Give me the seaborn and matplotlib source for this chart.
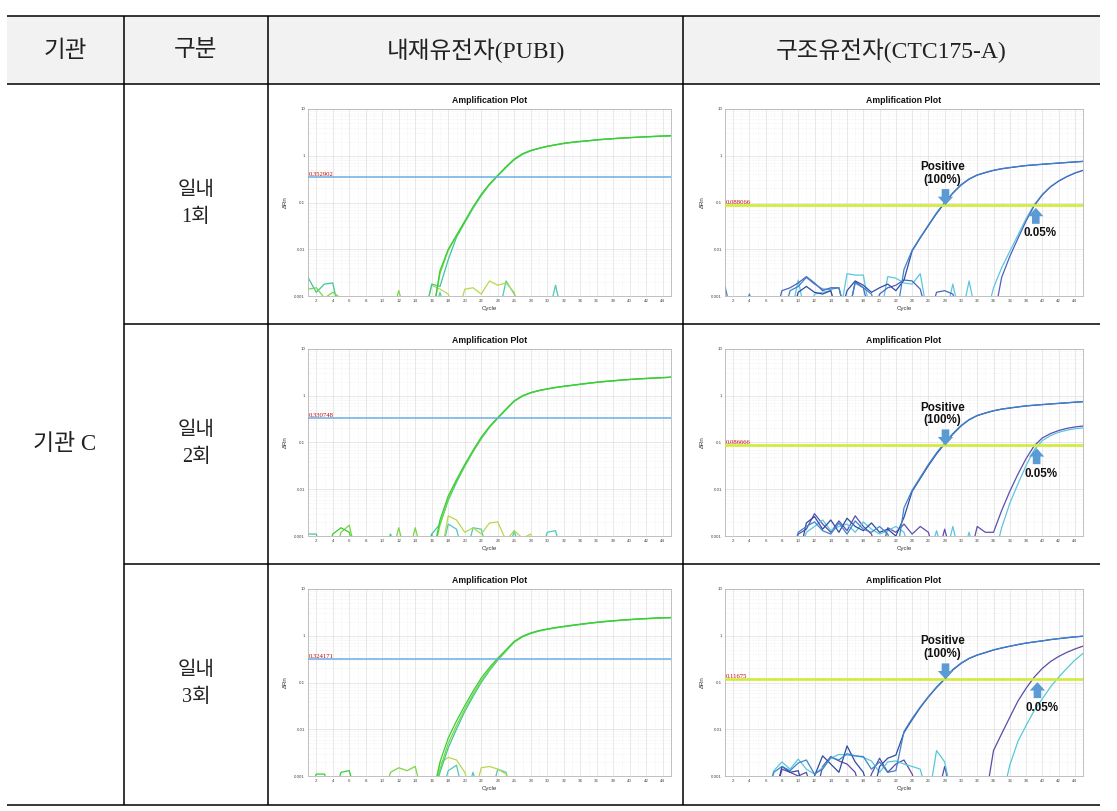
import matplotlib
matplotlib.use("Agg")
import matplotlib.pyplot as plt
import seaborn as sns
from matplotlib.patches import Rectangle
from matplotlib.ticker import MultipleLocator, LogLocator, FixedLocator, NullFormatter
import matplotlib.transforms as mtransforms

sns.set_theme(style="white")
plt.rcParams["font.family"] = ["Liberation Sans", "Noto Sans CJK KR"]

W, H = 1117, 811
B = 3e-4  # below the visible axis floor

# ---------------- table text ----------------
HEADERS = ["기관", "구분", "내재유전자(PUBI)", "구조유전자(CTC175-A)"]
INSTITUTION = "기관 C"
ROW_LABELS = ["일내\n1회", "일내\n2회", "일내\n3회"]
PLOT_TITLE = "Amplification Plot"
X_LABEL = "Cycle"
Y_LABEL = "ΔRn"
Y_TICKS = [0.001, 0.01, 0.1, 1, 10]
Y_TICK_LABELS = ["0.001", "0.01", "0.1", "1", "10"]
X_TICKS = list(range(2, 45, 2))
CYCLES = list(range(1, 46))

# ---------------- thresholds ----------------
PUBI_THRESHOLDS = [0.352902, 0.330748, 0.324171]
PUBI_THR_LABELS = ["0.352902", "0.330748", "0.324171"]
CTC_THRESHOLDS = [0.088066, 0.086666, 0.11675]
CTC_THR_LABELS = ["0.088066", "0.086666", "0.11675"]

# ---------------- PUBI row 1 ----------------
P1_A = [B, B, B, B, B, B, B, B, B, B,
        B, B, B, B, B, B, .0035, .010, .020, .040,
        .080, .15, .25, .38, .58, .85, 1.10, 1.30, 1.45, 1.60,
        1.72, 1.85, 1.95, 2.03, 2.10, 2.20, 2.27, 2.33, 2.40, 2.45,
        2.50, 2.55, 2.60, 2.65, 2.70]
P1_B = [.0014, .0015, .0009, .0012, .0009, B, B, B, B, B,
        B, .0013, B, B, B, B, .0030, .0095, .019, .039,
        .078, .145, .245, .375, .57, .84, 1.09, 1.29, 1.44, 1.59,
        1.71, 1.84, 1.94, 2.02, 2.09, 2.19, 2.26, 2.32, 2.39, 2.44,
        2.49, 2.54, 2.59, 2.64, 2.68]
P1_C = [.0025, .0012, .0018, .0019, B, B, B, B, B, B,
        B, B, B, B, B, .0018, .0016, .0060, .018, .037,
        .075, .14, .24, .37, .56, .82, 1.07, 1.27, 1.43, 1.58,
        1.70, 1.82, 1.92, 2.00, 2.08, 2.17, 2.24, 2.31, 2.37, 2.43,
        2.48, 2.53, 2.58, 2.62, 2.66]
P1_N = [B, B, B, B, B, B, B, B, B, B,
        B, B, B, B, B, .0017, .0014, .0011, B, .0014,
        .0015, .0011, .0021, .0017, .0019, .0012, B, B, B, B,
        B, B, B, B, B, B, B, B, B, B,
        B, B, B, B, B]
P1_M = [B, B, B, B, B, B, B, B, B, B,
        B, B, B, B, B, B, .0012, B, B, B,
        B, B, B, B, .0021, .0011, B, B, B, B,
        .0017, B, B, B, B, B, B, B, B, B,
        B, B, B, B, B]

# ---------------- PUBI row 2 ----------------
P2_A = [B, B, B, .0011, .0015, .0012, B, B, B, B,
        B, B, B, B, B, B, .0022, .0072, .016, .034,
        .068, .13, .22, .34, .52, .78, 1.00, 1.17, 1.30, 1.41,
        1.51, 1.60, 1.68, 1.77, 1.86, 1.95, 2.03, 2.10, 2.17, 2.24,
        2.30, 2.35, 2.40, 2.45, 2.50]
P2_B = [B, B, B, B, .0012, .0017, B, B, B, B,
        B, .0015, B, .0015, B, B, .0017, .0062, .015, .032,
        .065, .125, .215, .335, .51, .77, .99, 1.16, 1.29, 1.40,
        1.50, 1.59, 1.67, 1.76, 1.85, 1.94, 2.02, 2.09, 2.16, 2.23,
        2.29, 2.34, 2.39, 2.44, 2.49]
P2_C = [.0011, .0011, B, B, B, B, B, B, B, B,
        .0011, B, B, B, B, .0011, .0018, .0058, .014, .031,
        .063, .12, .21, .33, .50, .76, .98, 1.15, 1.28, 1.39,
        1.49, 1.58, 1.66, 1.75, 1.84, 1.93, 2.01, 2.08, 2.15, 2.22,
        2.28, 2.33, 2.38, 2.43, 2.48]
P2_N = [B, B, B, B, B, B, B, B, B, B,
        B, B, B, B, B, B, B, .0027, .0022, .0012,
        .0015, .0011, .0019, .0020, .0008, .0013, .0009, .0011, B, B,
        B, B, B, B, B, B, B, B, B, B,
        B, B, B, B, B]
P2_M = [B, B, B, B, B, B, B, B, B, B,
        B, B, B, B, B, .0011, B, .0018, .0014, B,
        .0015, .0014, B, B, B, .0013, B, B, B, .0012,
        .0013, B, B, B, B, B, B, B, B, B,
        B, B, B, B, B]

# ---------------- PUBI row 3 ----------------
P3_A = [B, .0011, .0011, B, .0012, .0013, B, B, B, B,
        B, B, B, B, B, B, .0020, .0065, .015, .032,
        .065, .125, .21, .33, .50, .76, .98, 1.15, 1.29, 1.40,
        1.50, 1.59, 1.68, 1.77, 1.86, 1.95, 2.03, 2.10, 2.17, 2.23,
        2.29, 2.34, 2.39, 2.43, 2.46]
P3_B = [B, B, B, B, B, B, B, B, B, B,
        .0012, .0015, .0013, .0016, B, B, .0014, .0050, .012, .027,
        .056, .11, .19, .31, .48, .74, .96, 1.13, 1.27, 1.38,
        1.48, 1.57, 1.66, 1.75, 1.84, 1.93, 2.01, 2.08, 2.15, 2.21,
        2.27, 2.32, 2.37, 2.41, 2.44]
P3_C = [B, B, B, B, B, B, B, B, B, B,
        B, B, B, B, B, B, .0012, .0040, .010, .024,
        .050, .10, .18, .30, .47, .73, .95, 1.12, 1.26, 1.37,
        1.47, 1.56, 1.65, 1.74, 1.83, 1.92, 2.00, 2.07, 2.14, 2.20,
        2.26, 2.31, 2.36, 2.40, 2.43]
P3_N = [B, B, B, B, B, B, B, B, B, B,
        B, B, B, B, B, B, .0019, .0025, .0022, .0012,
        B, .0015, .0016, .0014, .0011, B, B, B, B, B,
        B, B, B, B, B, B, B, B, B, B,
        B, B, B, B, B]
P3_M = [B, B, B, B, B, B, B, B, B, B,
        B, B, B, B, B, B, B, .0013, .0017, B,
        .0012, B, B, .0014, .0012, B, B, B, B, B,
        B, B, B, B, B, B, B, B, B, B,
        B, B, B, B, B]

# ---------------- CTC row 1 ----------------
C1_PA = [.0016, B, B, .0011, B, B, B, B, .0013, .0016,
         .0025, .0018, .0014, .0014, .0015, B, .0019, .0015, .0011, B,
         B, B, .0037, .0095, .018, .033, .060, .10, .16, .24,
         .32, .39, .44, .49, .53, .56, .59, .62, .64, .66,
         .68, .70, .72, .74, .76]
C1_PB = [B, B, B, B, B, B, B, B, B, .0012,
         .0016, .0012, .0011, .0013, B, .0013, .0021, .0017, .0012, .0015,
         .0018, .0013, .0022, .0092, .0175, .032, .058, .098, .158, .235,
         .315, .385, .435, .485, .525, .555, .585, .615, .635, .655,
         .675, .695, .715, .735, .755]
C1_LA = [B, B, B, B, B, B, B, B, B, .0022,
         B, .0011, .0012, .0013, B, .0030, .0028, .0028, B, B,
         .0026, .0024, .0019, .0018, .0030, B, B, B, .0018, B,
         .0021, B, B, .0015, .0040, .0090, .020, .045, .090, .15,
         .22, .29, .36, .43, .49]
C1_LB = [B, B, B, B, B, B, B, .0013, .0015, .0019,
         .0026, .0019, .0013, .0015, .0015, B, .0020, .0015, B, .0011,
         .0015, .0017, .0022, .0021, .0014, B, .0012, .0013, .0011, B,
         B, B, B, B, .0025, .0070, .017, .040, .085, .145,
         .215, .285, .355, .425, .485]

# ---------------- CTC row 2 ----------------
C2_PA = [B, B, B, B, B, B, B, B, B, .0012,
         .0016, .0020, .0013, .0011, .0019, .0011, .0021, .0014, .0012, .0016,
         .0011, B, .0040, .0095, .018, .034, .060, .098, .155, .23,
         .31, .38, .43, .48, .52, .55, .58, .61, .63, .65,
         .67, .69, .71, .73, .75]
C2_PB = [B, B, B, B, B, B, B, B, B, B,
         .0019, .0026, .0014, .0022, .0012, .0024, .0016, .0013, .0019, .0012,
         .0014, .0010, .0025, .0090, .017, .032, .057, .094, .150, .225,
         .305, .375, .425, .475, .515, .545, .575, .605, .625, .645,
         .665, .685, .705, .725, .745]
C2_LA = [B, B, B, B, B, B, B, B, B, .0011,
         .0014, .0030, .0018, .0012, .0021, .0013, .0027, .0016, .0011, B,
         .0015, .0012, .0018, .0011, .0016, .0012, B, .0014, B, B,
         B, .0016, .0012, .0012, .0035, .0090, .021, .045, .085, .125,
         .155, .180, .200, .215, .225]
C2_LB = [B, B, B, B, B, B, B, B, B, B,
         .0012, .0016, .0022, .0013, .0016, .0018, .0012, .0020, .0014, .0011,
         .0013, .0016, .0012, B, B, B, .0013, B, .0016, B,
         .0012, B, B, B, .0015, .0050, .013, .032, .070, .110,
         .140, .165, .183, .197, .205]

# ---------------- CTC row 3 ----------------
C3_PA = [B, B, B, B, B, B, .0012, .0016, .0013, .0019,
         .0022, .0011, .0014, .0025, .0022, .0030, .0027, .0026, .0014, .0020,
         .0012, .0013, .0090, .017, .030, .050, .080, .12, .19, .26,
         .33, .39, .44, .50, .55, .60, .65, .70, .74, .78,
         .83, .87, .91, .95, .98]
C3_PB = [B, B, B, B, B, B, B, .0016, .0012, .0013,
         B, .0010, .0027, .0018, .0012, .0044, .0020, .0012, B, .0016,
         .0024, .0028, .0085, .016, .029, .049, .078, .118, .185, .255,
         .325, .385, .435, .495, .545, .595, .645, .695, .735, .775,
         .825, .865, .905, .945, .975]
C3_LA = [B, B, B, B, B, B, B, .0014, .0012, .0010,
         .0012, B, .0016, .0026, .0021, .0018, .0012, B, .0011, .0024,
         .0012, .0018, .0022, .0011, B, B, B, .0016, B, B,
         B, B, B, .0035, .0080, .018, .040, .075, .13, .20,
         .28, .36, .44, .52, .60]
C3_LB = [B, B, B, B, B, B, .0013, .0020, .0014, .0023,
         .0014, .0011, .0015, .0024, .0029, .0028, .0027, .0025, .0021, .0012,
         .0020, .0021, .0018, .0016, .0014, B, .0035, .0020, B, B,
         B, B, B, B, B, .0017, .0055, .012, .025, .045,
         .080, .13, .20, .30, .42]

PUBI_ROWS = [[P1_M, P1_N, P1_C, P1_B, P1_A],
             [P2_M, P2_N, P2_C, P2_B, P2_A],
             [P3_M, P3_N, P3_C, P3_B, P3_A]]
PUBI_COLORS = ["#4ccbb4", "#b6d94a", "#3cc79a", "#79d640", "#36cf36"]
CTC_ROWS = [[C1_LA, C1_LB, C1_PB, C1_PA],
            [C2_LA, C2_LB, C2_PB, C2_PA],
            [C3_LA, C3_LB, C3_PB, C3_PA]]
CTC_COLORS = [["#5cc6e0", "#4d62bd", "#2f4aa3", "#3f82cc"],
              ["#5b4fb0", "#5cc6e0", "#2f4aa3", "#3f82cc"],
              ["#5a4ba6", "#55c9d9", "#2f4aa3", "#3f82cc"]]

POS_TEXT = "Positive\n(100%)"
LOW_TEXT = "0.05%"
POS_ARROW_CYCLE = [28.1, 28.1, 28.1]
LOW_ARROW_CYCLE = [39.2, 39.3, 39.4]

# ---------------- figure ----------------
fig = plt.figure(figsize=(W / 100, H / 100), dpi=100)
fig.patch.set_facecolor("white")
bg = fig.add_axes([0, 0, 1, 1])
bg.set_xlim(0, W)
bg.set_ylim(H, 0)
bg.axis("off")

TABLE_FONT = ["Liberation Serif", "Noto Sans CJK KR"]
LINE = dict(color="black", lw=1.1, solid_capstyle="butt")

bg.add_patch(Rectangle((7, 16), 1093, 68, facecolor="#f2f2f2", edgecolor="none"))
bg.plot([7, 1100], [16, 16], **LINE)
bg.plot([7, 1100], [84, 84], **LINE)
bg.plot([124, 1100], [324, 324], **LINE)
bg.plot([124, 1100], [564, 564], **LINE)
bg.plot([7, 1100], [805, 805], **LINE)
for xv in (124, 268, 683):
    bg.plot([xv, xv], [16, 805], **LINE)

col_centers = [65, 196, 476, 891]
for cx, txt in zip(col_centers, HEADERS):
    bg.text(cx, 51, txt, ha="center", va="center", fontsize=17,
            family=TABLE_FONT, color="#222222")
bg.text(65, 444, INSTITUTION, ha="center", va="center", fontsize=16.5,
        family=TABLE_FONT, color="#222222")
for i, lab in enumerate(ROW_LABELS):
    bg.text(196, 204 + 240 * i, lab, ha="center", va="center", fontsize=14.5,
            family=TABLE_FONT, color="#222222", linespacing=1.55)


def make_axes(l, t, r, b):
    return fig.add_axes([l / W, 1 - b / H, (r - l) / W, (b - t) / H])


def style_axes(ax):
    ax.set_yscale("log")
    ax.set_xlim(1, 45)
    ax.set_ylim(0.001, 10)
    ax.xaxis.set_major_locator(FixedLocator(X_TICKS))
    ax.xaxis.set_minor_locator(MultipleLocator(1))
    ax.set_xticklabels([str(t) for t in X_TICKS])
    ax.yaxis.set_major_locator(FixedLocator(Y_TICKS))
    ax.set_yticklabels(Y_TICK_LABELS)
    ax.yaxis.set_minor_locator(LogLocator(base=10, subs=range(2, 10)))
    ax.yaxis.set_minor_formatter(NullFormatter())
    ax.grid(which="major", color="#dedede", lw=0.5, ls="-")
    ax.grid(which="minor", color="#e6e6e6", lw=0.4, ls=":")
    ax.tick_params(which="both", length=0, pad=2, labelsize=3.2, colors="#444444")
    for s in ax.spines.values():
        s.set_color("#b5b5b5")
        s.set_linewidth(0.6)
    ax.set_title(PLOT_TITLE, fontsize=6.3, fontweight="bold", pad=4, color="#111111")
    ax.set_xlabel(X_LABEL, fontsize=4.4, labelpad=2, color="#333333")
    ax.set_ylabel(Y_LABEL, fontsize=4.4, labelpad=5, color="#333333")
    ax.set_facecolor("white")


def draw_curves(ax, curves, colors):
    for vals, col in zip(curves, colors):
        sns.lineplot(x=CYCLES, y=vals, ax=ax, color=col, lw=0.9, legend=False)


def threshold(ax, thr, label, color, lw):
    ax.axhline(thr, color=color, lw=lw, zorder=3)
    tr = mtransforms.blended_transform_factory(ax.transAxes, ax.transData)
    ax.text(0.003, thr, label, transform=tr, fontsize=4.8, color="#c40000",
            family="Liberation Serif", ha="left", va="bottom", zorder=4)


ARROW_COLOR = "#5b9bd5"
ARROW = dict(arrowstyle="simple,head_length=0.55,head_width=1.0,tail_width=0.5",
             color=ARROW_COLOR, mutation_scale=11, shrinkA=0, shrinkB=0, lw=0)
ANNOT_FONT = dict(fontsize=8.4, fontweight="bold", family=["Liberation Sans", "DejaVu Sans"],
                  color="#111111", zorder=6)

for r in range(3):
    dy = 240 * r
    # PUBI
    ax = make_axes(308, 109 + dy, 671, 296 + dy)
    style_axes(ax)
    draw_curves(ax, PUBI_ROWS[r], PUBI_COLORS)
    threshold(ax, PUBI_THRESHOLDS[r], PUBI_THR_LABELS[r], "#67aee6", 1.1)

    # CTC
    ax2 = make_axes(725, 109 + dy, 1083, 296 + dy)
    style_axes(ax2)
    draw_curves(ax2, CTC_ROWS[r], CTC_COLORS[r])
    thr = CTC_THRESHOLDS[r]
    threshold(ax2, thr, CTC_THR_LABELS[r], "#d2ea3a", 1.9)

    pc = POS_ARROW_CYCLE[r]
    ax2.annotate("", xy=(pc, thr), xytext=(0, 11.5), textcoords="offset points",
                 arrowprops=ARROW, zorder=6)
    ax2.annotate(POS_TEXT, xy=(pc, thr), xytext=(-2, 14), textcoords="offset points",
                 ha="center", va="bottom", linespacing=1.05, **ANNOT_FONT)
    lc = LOW_ARROW_CYCLE[r]
    ax2.annotate("", xy=(lc, thr), xytext=(0, -13.5), textcoords="offset points",
                 arrowprops=dict(ARROW, shrinkB=2), zorder=6)
    ax2.annotate(LOW_TEXT, xy=(lc, thr), xytext=(3, -16), textcoords="offset points",
                 ha="center", va="top", **ANNOT_FONT)

fig.savefig("out.png", dpi=100)
